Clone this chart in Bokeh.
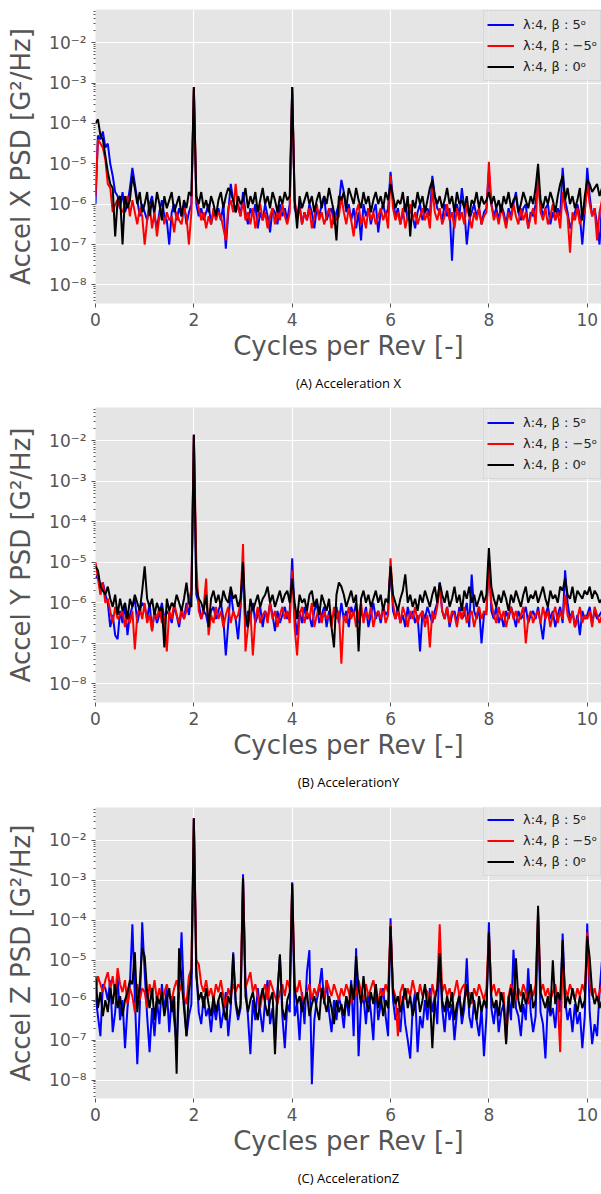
import numpy as np
from bokeh.plotting import figure
from bokeh.models import (FixedTicker, CustomJSTickFormatter, Legend, LegendItem,
                          Title, Range1d)
from bokeh.layouts import column
from bokeh.embed import file_html
from bokeh.resources import INLINE

# x axis: cycles per rev (frequency bins)
cpr = [round(i * 0.05, 2) for i in range(207)]

labels = ["λ:4, β : 5ᵒ", "λ:4, β : −5ᵒ", "λ:4, β : 0ᵒ"]
colors = ["#0000ff", "#ff0000", "#000000"]

# ---- Panel A: Acceleration X, log10(PSD) ----
accx_b5 = [
    -6.0, -4.3, -4.4, -4.2, -4.6, -4.5, -5.0, -5.3, -5.7, -5.8, -6.1, -5.7, -6.2, -6.0, -5.6, -5.1, -5.5, -5.9, -6.3, -6.0,
    -6.2, -6.4, -6.0, -5.8, -6.3, -6.6, -6.2, -5.9, -6.3, -6.4, -7.0, -6.2, -6.0, -6.4, -6.1, -6.3, -6.0, -6.5, -6.2, -6.0,
    -3.15, -6.0, -6.3, -6.1, -6.4, -6.2, -6.0, -6.5, -6.2, -6.3, -6.1, -6.4, -6.0, -7.1, -6.2, -5.5, -5.9, -6.2, -6.0, -6.3,
    -5.7, -6.2, -6.5, -6.1, -6.3, -6.0, -6.6, -6.2, -6.4, -6.0, -6.3, -6.7, -6.1, -6.2, -6.5, -6.0, -6.3, -6.1, -6.4, -6.0,
    -3.1, -6.1, -6.3, -6.0, -6.5, -6.2, -6.4, -6.0, -6.2, -6.6, -6.1, -6.3, -6.0, -5.8, -6.4, -6.2, -6.1, -6.5, -6.2, -6.0,
    -5.4, -5.7, -6.2, -6.0, -6.4, -6.1, -6.6, -6.2, -6.9, -6.0, -6.3, -6.1, -6.5, -6.2, -6.0, -6.7, -6.2, -6.0, -6.3, -6.1,
    -5.2, -5.9, -6.3, -6.1, -6.5, -6.2, -6.0, -6.4, -6.1, -6.3, -6.6, -6.2, -6.0, -6.4, -6.2, -6.1, -6.3, -5.3, -5.8, -6.1,
    -6.2, -6.4, -6.0, -6.3, -6.1, -7.4, -6.2, -6.0, -6.3, -5.6, -6.1, -7.0, -6.4, -6.2, -6.0, -6.3, -6.1, -6.5, -6.2, -6.1,
    -5.2, -6.0, -6.3, -6.1, -6.4, -6.0, -6.2, -6.5, -6.1, -6.3, -6.0, -5.7, -6.2, -6.4, -6.1, -6.0, -6.6, -6.2, -6.3, -6.0,
    -5.4, -6.0, -6.3, -6.1, -6.0, -6.5, -6.2, -6.4, -6.1, -6.3, -5.1, -5.9, -6.2, -6.6, -6.4, -6.2, -6.0, -6.3, -7.0, -6.2,
    -5.1, -5.8, -6.3, -6.1, -6.5, -7.0, -6.0]
accx_bm5 = [
    -5.8, -4.4, -4.5, -4.6, -4.9, -5.5, -5.6, -6.2, -6.0, -5.9, -6.1, -6.2, -6.0, -5.8, -6.3, -5.9, -6.2, -6.5, -6.1, -6.3,
    -7.0, -6.4, -6.0, -6.6, -6.2, -6.8, -6.3, -6.1, -6.5, -6.2, -6.4, -6.3, -6.7, -6.2, -6.4, -6.5, -6.1, -6.3, -7.0, -6.2,
    -3.1, -5.8, -6.1, -6.4, -6.2, -6.6, -6.3, -6.5, -6.1, -6.4, -6.2, -6.3, -6.6, -6.9, -6.1, -5.9, -6.2, -5.5, -6.1, -6.3,
    -5.9, -6.4, -6.2, -6.5, -6.1, -6.6, -6.3, -6.0, -6.4, -6.2, -6.6, -6.3, -6.1, -6.5, -6.2, -6.4, -6.0, -6.3, -6.5, -6.2,
    -3.15, -5.9, -6.3, -6.1, -6.5, -6.2, -6.4, -6.1, -6.6, -6.3, -6.0, -6.4, -6.2, -6.5, -6.3, -6.1, -6.6, -6.2, -6.4, -6.3,
    -5.8, -6.2, -6.5, -6.1, -6.4, -6.8, -6.2, -6.0, -6.5, -6.3, -6.6, -6.1, -6.4, -6.2, -6.5, -6.3, -6.1, -6.4, -6.2, -6.6,
    -5.3, -6.1, -6.4, -6.2, -6.5, -6.1, -6.6, -6.3, -6.0, -6.4, -6.2, -6.5, -6.3, -6.1, -6.4, -6.2, -6.6, -5.6, -6.2, -6.4,
    -6.1, -6.5, -6.3, -6.0, -6.4, -6.2, -6.6, -6.1, -6.4, -6.2, -6.5, -6.0, -6.3, -6.6, -6.2, -6.4, -6.1, -6.5, -6.3, -6.2,
    -4.95, -6.0, -6.4, -6.2, -6.5, -6.1, -6.3, -6.6, -6.2, -6.4, -6.0, -6.3, -6.5, -6.1, -6.4, -6.2, -6.6, -6.3, -6.1, -6.5,
    -5.3, -6.2, -6.4, -6.1, -6.5, -6.3, -6.0, -6.4, -6.2, -6.6, -5.7, -6.1, -6.3, -7.2, -6.2, -6.4, -6.1, -6.5, -6.3, -6.2,
    -5.5, -6.0, -6.3, -6.1, -6.9, -6.2, -5.9]
accx_b0 = [
    -4.0, -3.9, -4.3, -4.4, -4.8, -5.2, -5.5, -5.6, -6.8, -5.9, -5.8, -7.0, -5.8, -6.1, -5.9, -5.3, -5.6, -6.0, -5.7, -6.2,
    -6.0, -5.7, -6.3, -5.9, -6.2, -5.7, -6.0, -6.4, -5.8, -6.1, -5.9, -5.7, -6.2, -6.0, -5.8, -6.3, -5.9, -6.1, -5.7, -5.8,
    -3.1, -5.8, -6.0, -5.7, -6.1, -5.9, -6.2, -5.8, -6.0, -6.3, -5.9, -5.7, -6.1, -5.8, -5.6, -5.7, -5.9, -6.2, -5.8, -6.0,
    -5.9, -5.6, -6.1, -5.8, -6.0, -5.7, -6.2, -5.9, -5.6, -6.0, -5.8, -6.1, -5.7, -5.9, -6.2, -5.8, -6.0, -5.7, -5.9, -5.8,
    -3.1, -5.9, -6.6, -5.8, -6.1, -5.9, -5.7, -6.0, -5.8, -6.2, -5.9, -5.7, -6.1, -5.8, -6.0, -5.6, -5.9, -6.2, -6.9, -5.8,
    -5.9, -5.7, -6.1, -5.6, -5.8, -6.0, -5.6, -5.9, -6.1, -5.7, -6.0, -5.8, -6.2, -5.9, -5.7, -6.0, -5.8, -6.1, -5.7, -5.9,
    -5.5, -5.8, -6.1, -5.9, -6.0, -5.7, -6.2, -5.8, -6.8, -5.9, -6.1, -5.7, -6.0, -5.8, -6.2, -5.9, -5.6, -5.4, -5.8, -6.0,
    -5.8, -6.1, -5.9, -5.6, -6.0, -5.8, -6.2, -5.7, -6.0, -5.9, -6.1, -5.8, -6.3, -5.9, -6.0, -5.7, -6.1, -5.8, -6.0, -5.9,
    -5.7, -6.0, -5.8, -6.1, -5.9, -6.2, -5.8, -6.0, -5.7, -6.1, -5.9, -5.8, -6.2, -6.0, -5.7, -5.9, -6.1, -5.8, -6.0, -5.6,
    -5.0, -5.9, -6.1, -5.8, -6.0, -5.7, -5.9, -6.2, -5.8, -5.5, -5.3, -5.9, -5.6, -6.0, -5.8, -6.1, -5.9, -5.6, -6.4, -5.8,
    -5.4, -5.5, -5.7, -5.6, -5.5, -5.8, -5.6]

# ---- Panel B: Acceleration Y ----
accy_b5 = [
    -5.4, -5.3, -5.6, -5.5, -5.8, -6.0, -6.6, -6.3, -6.8, -6.9, -6.2, -6.5, -6.0, -6.8, -6.3, -6.1, -5.9, -6.5, -6.2, -6.0,
    -6.1, -6.4, -6.0, -6.7, -6.2, -6.5, -6.3, -6.0, -6.4, -6.2, -6.3, -6.5, -6.1, -6.3, -6.6, -6.2, -6.4, -6.0, -6.3, -5.8,
    -1.85, -5.8, -6.0, -6.4, -6.2, -6.3, -6.6, -6.2, -6.1, -6.4, -6.2, -6.0, -6.4, -7.3, -6.5, -5.7, -6.2, -6.4, -6.9, -6.1,
    -5.2, -6.6, -6.2, -6.4, -6.0, -6.5, -6.3, -6.1, -6.6, -6.2, -6.4, -6.0, -6.3, -6.7, -6.2, -6.5, -6.3, -6.1, -6.4, -6.2,
    -4.9, -6.3, -6.8, -6.2, -6.5, -6.1, -6.4, -6.3, -6.6, -6.2, -6.0, -6.5, -6.3, -6.1, -6.6, -6.2, -6.4, -6.3, -6.1, -6.5,
    -6.0, -6.4, -6.2, -6.6, -6.1, -6.3, -6.0, -6.5, -6.2, -6.4, -6.1, -6.6, -6.3, -6.0, -6.4, -6.2, -6.5, -6.1, -6.3, -6.2,
    -5.1, -6.2, -6.4, -6.1, -6.5, -6.3, -6.6, -6.1, -6.4, -6.2, -6.5, -6.3, -7.2, -6.2, -6.4, -6.1, -6.3, -6.5, -6.2, -6.0,
    -5.5, -6.2, -6.4, -6.1, -6.6, -6.3, -6.2, -6.5, -6.1, -6.4, -6.3, -6.0, -6.6, -5.3, -6.2, -6.4, -6.1, -7.0, -6.3, -6.2,
    -4.9, -6.2, -6.4, -6.1, -6.5, -6.3, -6.6, -6.2, -6.4, -6.1, -6.3, -6.6, -6.2, -6.4, -6.3, -6.1, -6.5, -6.3, -6.2, -6.4,
    -6.1, -6.5, -6.9, -6.3, -6.1, -6.4, -6.2, -6.6, -6.3, -6.1, -6.5, -5.2, -6.0, -6.4, -6.2, -6.6, -6.3, -6.8, -6.2, -6.4,
    -6.3, -6.1, -6.5, -6.2, -6.4, -6.3, -6.2]
accy_bm5 = [
    -5.0, -5.4, -5.8, -5.5, -6.0, -5.9, -6.2, -6.5, -6.1, -6.4, -6.3, -6.2, -6.6, -6.3, -6.5, -6.2, -7.15, -6.3, -6.1, -6.4,
    -6.0, -6.5, -6.3, -6.7, -6.2, -6.4, -6.1, -6.5, -6.3, -7.2, -6.2, -6.4, -6.0, -6.3, -6.5, -6.1, -6.4, -6.2, -5.9, -5.7,
    -1.85, -5.0, -6.2, -6.4, -6.1, -5.4, -6.8, -6.3, -6.5, -6.1, -6.4, -6.2, -6.6, -6.3, -6.1, -6.5, -6.2, -6.4, -6.3, -6.0,
    -4.55, -7.2, -6.6, -6.2, -7.3, -6.4, -6.1, -6.5, -6.3, -6.2, -6.5, -6.0, -6.4, -6.2, -6.6, -6.3, -6.1, -6.4, -6.2, -6.5,
    -5.2, -6.6, -7.3, -6.3, -6.1, -6.5, -6.2, -6.4, -6.0, -6.6, -6.3, -6.1, -6.5, -6.2, -6.4, -6.3, -6.6, -6.1, -6.4, -6.2,
    -7.5, -6.3, -6.5, -6.1, -6.4, -6.2, -6.6, -6.3, -6.0, -6.5, -6.2, -6.4, -6.1, -6.6, -6.3, -6.2, -6.4, -6.1, -6.5, -6.3,
    -4.9, -6.0, -6.4, -6.2, -6.5, -6.1, -6.3, -6.6, -6.2, -6.4, -6.1, -6.5, -6.3, -6.2, -6.6, -6.3, -7.1, -6.2, -6.4, -6.1,
    -5.6, -6.2, -6.4, -6.1, -6.5, -6.2, -6.3, -6.6, -6.2, -6.4, -6.1, -6.5, -6.3, -6.2, -6.6, -6.3, -6.1, -6.4, -6.2, -6.3,
    -5.0, -6.0, -6.3, -6.5, -6.1, -6.4, -6.2, -6.6, -6.3, -6.1, -6.4, -6.2, -6.5, -6.3, -6.1, -7.0, -6.4, -6.2, -6.5, -6.3,
    -6.2, -6.5, -6.1, -6.4, -6.2, -6.6, -6.3, -6.1, -6.5, -6.2, -6.4, -5.8, -6.3, -6.5, -6.2, -6.6, -6.4, -6.1, -6.5, -6.3,
    -6.4, -6.2, -6.6, -6.1, -6.3, -6.5, -6.3]
accy_b0 = [
    -5.1, -5.2, -5.6, -5.7, -5.8, -5.6, -5.9, -6.1, -5.8, -6.3, -5.9, -6.2, -6.0, -6.4, -5.9, -6.1, -5.8, -6.0, -6.2, -5.7,
    -5.1, -5.9, -6.1, -5.9, -6.3, -6.0, -6.2, -6.1, -7.1, -5.9, -6.2, -6.0, -6.1, -5.8, -6.0, -6.2, -5.9, -5.5, -6.0, -6.1,
    -1.85, -5.6, -5.9, -6.0, -6.2, -5.8, -6.6, -5.9, -5.7, -6.0, -5.8, -6.1, -5.7, -5.9, -6.0, -5.6, -5.9, -5.8, -6.1, -5.9,
    -5.0, -6.3, -6.6, -5.9, -6.2, -6.0, -5.8, -6.1, -5.9, -5.8, -5.6, -6.0, -5.8, -6.1, -5.9, -5.7, -6.0, -5.8, -5.7, -6.0,
    -5.4, -6.0, -6.4, -5.8, -6.0, -5.9, -6.2, -5.8, -5.7, -6.1, -5.9, -6.3, -5.8, -6.0, -6.2, -5.9, -6.6, -7.1, -5.8, -5.5,
    -5.6, -5.8, -6.1, -5.9, -5.7, -6.0, -5.8, -7.2, -5.9, -5.7, -6.0, -5.8, -6.1, -5.9, -5.7, -6.0, -5.8, -6.2, -5.9, -6.0,
    -5.1, -5.8, -6.0, -6.2, -5.9, -5.7, -5.3, -6.0, -5.8, -6.1, -5.9, -6.2, -5.8, -6.0, -5.7, -5.9, -6.1, -5.8, -5.6, -6.0,
    -5.5, -5.8, -6.0, -5.7, -6.1, -5.9, -5.6, -6.0, -5.8, -6.2, -5.7, -5.9, -5.6, -6.0, -5.8, -6.1, -5.9, -5.7, -6.0, -5.8,
    -4.65, -5.6, -5.9, -6.1, -5.8, -6.0, -5.7, -5.9, -6.2, -5.8, -6.0, -5.7, -5.9, -6.1, -5.8, -5.6, -6.0, -5.8, -5.9, -5.7,
    -6.0, -5.8, -5.6, -5.9, -6.1, -5.7, -5.9, -5.8, -6.0, -5.6, -5.7, -5.4, -5.8, -5.9, -5.6, -6.0, -5.7, -5.8, -5.9, -5.7,
    -5.8, -5.6, -5.9, -5.7, -5.8, -6.0, -5.9]

# ---- Panel C: Acceleration Z ----
accz_b5 = [
    -5.9, -6.4, -6.9, -5.6, -5.7, -6.0, -5.5, -6.8, -6.3, -5.4, -6.5, -6.0, -7.2, -6.2, -5.6, -4.1, -5.9, -7.6, -6.2, -4.05,
    -5.3, -6.4, -7.3, -6.2, -6.9, -6.0, -6.6, -5.6, -6.3, -5.7, -6.8, -5.9, -6.5, -7.1, -5.8, -4.3, -6.0, -6.9, -6.4, -6.1,
    -1.45, -5.2, -6.3, -6.6, -5.9, -6.4, -6.2, -6.8, -6.1, -6.5, -6.0, -6.7, -6.3, -5.8, -6.9, -6.2, -4.8, -6.1, -6.5, -6.2,
    -2.85, -5.6, -6.4, -7.35, -6.0, -6.5, -5.7, -6.3, -6.8, -6.0, -5.5, -6.6, -6.2, -7.0, -5.8, -4.9, -6.4, -7.2, -6.1, -6.3,
    -3.05, -6.4, -6.1, -7.0, -5.8, -6.6, -5.3, -4.75, -8.1, -6.5, -6.0, -5.7, -5.2, -6.1, -5.5, -6.3, -6.8, -6.0, -6.5, -5.9,
    -6.2, -6.7, -5.9, -6.4, -5.5, -6.9, -4.7, -7.4, -6.1, -5.9, -6.6, -5.8, -6.3, -7.0, -5.6, -6.5, -6.1, -5.7, -6.4, -6.9,
    -3.95, -6.0, -6.5, -6.2, -6.8, -5.9, -6.6, -7.0, -7.46, -6.2, -5.8, -7.3, -6.4, -6.7, -6.0, -6.5, -5.7, -6.3, -5.9, -6.6,
    -4.95, -6.2, -6.8, -6.0, -6.5, -6.1, -7.0, -6.3, -5.8, -6.6, -6.2, -4.95, -6.4, -6.7, -6.0, -6.5, -6.9, -6.2, -7.4, -6.4,
    -4.05, -6.2, -6.6, -6.0, -6.8, -6.3, -6.1, -6.7, -5.9, -6.5, -4.74, -6.2, -6.4, -6.9, -6.1, -6.5, -5.2, -6.3, -6.8, -6.4,
    -3.9, -6.3, -6.6, -7.46, -6.0, -6.4, -6.2, -6.7, -5.9, -6.3, -4.33, -6.0, -6.5, -6.2, -6.8, -6.1, -6.6, -6.3, -7.2, -6.4,
    -4.08, -6.3, -7.1, -6.6, -6.9, -5.8, -5.0]
accz_bm5 = [
    -5.9, -5.4, -5.6, -5.8, -5.5, -5.3, -5.7, -5.4, -5.9, -5.2, -5.6, -5.8, -5.5, -6.1, -5.7, -5.9, -6.3, -5.6, -6.0, -5.7,
    -5.8, -6.2, -5.6, -5.9, -5.5, -6.0, -5.7, -6.1, -5.8, -5.6, -5.9, -6.0, -5.7, -5.5, -5.8, -5.6, -5.9, -6.1, -5.4, -5.2,
    -1.45, -5.0, -5.1, -5.6, -5.8, -5.5, -5.9, -5.7, -6.0, -5.6, -5.8, -5.5, -5.9, -6.2, -5.7, -5.9, -5.6, -5.8, -5.6, -5.7,
    -2.95, -5.7, -5.5, -5.3, -5.8, -5.6, -5.9, -6.2, -5.8, -5.6, -6.0, -5.5, -5.7, -5.9, -6.1, -5.8, -5.6, -5.9, -5.5, -5.7,
    -3.08, -5.6, -5.8, -5.5, -5.9, -6.1, -5.8, -5.6, -6.0, -5.7, -5.9, -5.6, -5.8, -6.0, -5.5, -5.7, -5.9, -5.6, -5.8, -6.0,
    -5.7, -5.9, -5.6, -5.8, -6.1, -5.7, -5.9, -5.5, -5.8, -6.0, -5.6, -5.9, -5.7, -5.5, -5.8, -6.1, -5.7, -5.9, -5.6, -5.8,
    -4.1, -5.7, -5.9, -6.9, -5.8, -5.6, -6.0, -5.7, -5.9, -5.5, -5.8, -6.0, -5.6, -5.9, -5.7, -5.8, -6.2, -5.6, -5.9, -5.7,
    -4.1, -5.8, -5.6, -5.9, -5.7, -6.0, -5.8, -5.5, -5.9, -5.7, -5.6, -5.9, -5.8, -6.1, -5.7, -5.9, -5.6, -5.8, -6.0, -5.7,
    -4.3, -5.8, -5.6, -5.9, -5.7, -6.0, -5.8, -7.05, -5.9, -5.6, -5.8, -6.0, -5.7, -5.9, -5.6, -5.8, -6.1, -5.7, -5.9, -5.6,
    -3.8, -5.8, -5.6, -5.9, -5.7, -6.0, -5.8, -5.6, -6.0, -7.3, -4.9, -5.7, -5.9, -5.6, -5.8, -6.0, -5.7, -5.9, -5.6, -5.8,
    -4.3, -5.6, -5.9, -5.7, -6.0, -5.8, -5.6]
accz_b0 = [
    -5.4, -6.2, -5.8, -6.4, -6.0, -6.3, -5.7, -6.1, -5.6, -6.2, -5.9, -6.4, -6.0, -5.8, -5.5, -5.6, -4.8, -6.3, -5.6, -4.7,
    -4.9, -5.8, -6.2, -5.7, -6.5, -5.9, -6.1, -5.8, -6.4, -6.0, -5.7, -6.3, -5.9, -7.84, -4.7, -5.5, -6.2, -6.9, -5.8, -5.3,
    -1.45, -5.4, -6.0, -5.8, -6.2, -5.7, -6.1, -6.4, -5.9, -6.3, -6.0, -5.8, -6.2, -6.5, -5.9, -6.1, -4.85, -6.0, -6.4, -6.1,
    -2.95, -5.9, -6.3, -6.0, -5.8, -6.2, -6.5, -6.0, -5.7, -6.1, -6.4, -6.0, -5.8, -7.35, -5.9, -4.85, -6.2, -6.5, -6.0, -5.8,
    -3.08, -5.7, -6.1, -5.9, -6.3, -6.0, -5.8, -6.4, -6.1, -5.9, -6.2, -6.5, -5.7, -6.0, -6.3, -5.9, -6.2, -6.6, -6.0, -6.3,
    -6.1, -6.4, -5.9, -6.2, -5.6, -6.0, -4.9, -5.7, -6.1, -5.4, -6.0, -6.3, -5.8, -6.1, -5.6, -6.2, -5.9, -6.4, -6.0, -6.2,
    -4.15, -5.8, -6.1, -5.9, -6.3, -6.0, -5.7, -6.2, -5.9, -6.4, -6.1, -5.8, -6.3, -6.0, -5.6, -6.2, -5.9, -7.2, -6.0, -5.7,
    -4.82, -6.0, -6.3, -5.9, -6.2, -5.8, -6.5, -6.1, -5.9, -6.4, -6.0, -5.6, -6.2, -5.8, -6.1, -6.5, -5.9, -6.3, -6.0, -6.2,
    -4.3, -5.9, -6.2, -6.0, -6.4, -5.8, -6.1, -7.1, -6.0, -5.7, -6.2, -4.95, -6.0, -6.3, -5.8, -6.1, -5.9, -5.6, -6.2, -6.0,
    -3.64, -5.8, -6.0, -6.2, -5.9, -6.3, -5.0, -6.1, -5.8, -6.0, -4.5, -6.2, -5.9, -6.1, -5.7, -6.0, -6.3, -5.9, -6.2, -6.0,
    -4.4, -4.95, -5.8, -6.1, -5.9, -6.2, -6.0]

x_ticks = [0, 2, 4, 6, 8, 10]
y_major = [10.0 ** e for e in range(-8, -1)]
y_minor = [k * 10.0 ** e for e in range(-9, -1) for k in range(2, 10)]

fmt_code = """
const e = Math.round(Math.log10(tick));
const sup = {"-": "\u207b", "0": "\u2070", "1": "\u00b9", "2": "\u00b2", "3": "\u00b3",
             "4": "\u2074", "5": "\u2075", "6": "\u2076", "7": "\u2077", "8": "\u2078", "9": "\u2079"};
return "10" + String(e).split("").map(c => sup[c]).join("");
"""

FW = 601
FRAME_LEFT = 95


def make_panel(series, ylabel, caption, height, top, bottom, cap_standoff):
    p = figure(width=FW, height=height, y_axis_type="log",
               x_range=Range1d(0, 10.29), y_range=Range1d(10 ** -8.46, 10 ** -1.18),
               output_backend="svg", toolbar_location=None,
               min_border_left=FRAME_LEFT, min_border_right=0,
               min_border_top=top, min_border_bottom=bottom,
               background_fill_color="#e5e5e5", border_fill_color="white",
               outline_line_color=None)
    rends = []
    for vals, col in zip(series, colors):
        xs = cpr[:len(vals)]
        ys = [10.0 ** v for v in vals]
        r = p.line(xs, ys, line_color=col, line_width=2)
        rends.append(r)

    p.xaxis.ticker = FixedTicker(ticks=x_ticks)
    p.yaxis.ticker = FixedTicker(ticks=y_major, minor_ticks=y_minor)
    p.yaxis.formatter = CustomJSTickFormatter(code=fmt_code)
    p.xgrid.ticker = FixedTicker(ticks=x_ticks)
    p.ygrid.ticker = FixedTicker(ticks=y_major)
    p.grid.grid_line_color = "white"
    p.grid.grid_line_width = 1.2

    for ax in (p.xaxis[0], p.yaxis[0]):
        ax.axis_line_color = None
        ax.major_tick_line_color = "#555555"
        ax.major_tick_in = 0
        ax.major_tick_out = 4
        ax.major_label_text_font = "DejaVu Sans"
        ax.major_label_text_font_size = "17px"
        ax.major_label_text_color = "#555555"
        ax.axis_label_text_font = "DejaVu Sans"
        ax.axis_label_text_font_size = "26px"
        ax.axis_label_text_font_style = "normal"
        ax.axis_label_text_color = "#555555"
        ax.major_label_standoff = 5
    p.xaxis.minor_tick_line_color = None
    p.yaxis.minor_tick_line_color = "#555555"
    p.yaxis.minor_tick_in = 0
    p.yaxis.minor_tick_out = 2
    p.xaxis.axis_label = "Cycles per Rev [-]"
    p.xaxis.axis_label_standoff = 2
    p.yaxis.axis_label = ylabel
    p.yaxis.axis_label_standoff = 10

    frame_h = height - top - bottom
    leg_h = 67
    legend = Legend(items=[LegendItem(label=lab, renderers=[r]) for lab, r in zip(labels, rends)],
                    location=(388, frame_h - 6 - leg_h))
    legend.label_text_font = "DejaVu Sans"
    legend.label_text_font_size = "13px"
    legend.label_text_color = "#222222"
    legend.glyph_width = 27
    legend.glyph_height = 21
    legend.label_height = 21
    legend.spacing = 0
    legend.padding = 3
    legend.margin = 0
    legend.label_standoff = 9
    legend.border_line_color = "#cccccc"
    legend.background_fill_color = "#e5e5e5"
    legend.background_fill_alpha = 0.8
    p.add_layout(legend, "center")

    t = Title(text=caption, align="center", text_font="Open Sans", text_font_size="13px",
              text_font_style="normal", text_color="#000000", standoff=cap_standoff)
    p.add_layout(t, "below")
    return p


pA = make_panel([accx_b5, accx_bm5, accx_b0], "Accel X PSD [G²/Hz]", "(A) Acceleration X",
                399, 9, 95, 16)
pB = make_panel([accy_b5, accy_bm5, accy_b0], "Accel Y PSD [G²/Hz]", "(B) AccelerationY",
                399, 8, 95, 16)
pC = make_panel([accz_b5, accz_bm5, accz_b0], "Accel Z PSD [G²/Hz]", "(C) AccelerationZ",
                396, 9, 92, 16)

layout = column(pA, pB, pC, spacing=0)
open("out.html", "w").write(file_html(layout, INLINE))
